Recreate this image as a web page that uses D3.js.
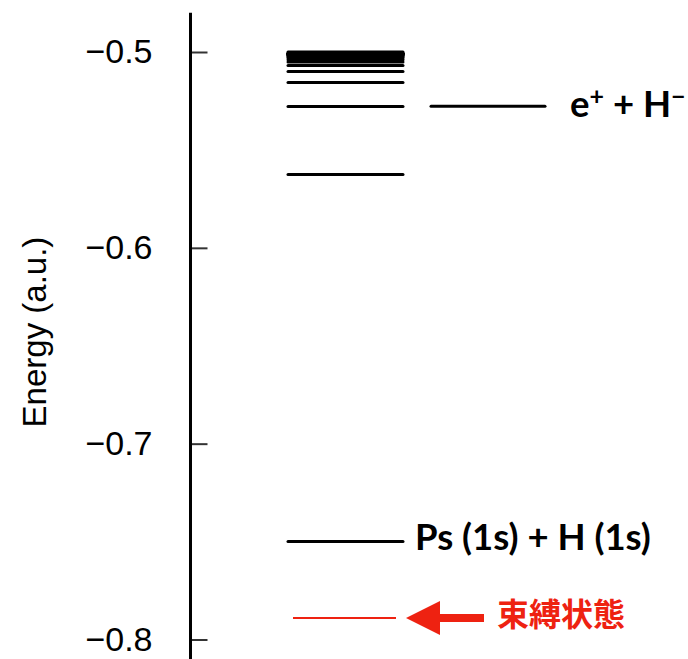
<!DOCTYPE html>
<html>
<head>
<meta charset="utf-8">
<script src="https://cdn.jsdelivr.net/npm/d3@7"></script>
<style>
  html, body { margin: 0; padding: 0; background: #fff; }
  svg { display: block; }
</style>
</head>
<body>
<svg id="chart" width="688" height="659"></svg>
<script>
// Energy levels of the Ps + H system (atomic units)
// Ps(n) + H(1s) thresholds, n = 2, 3, 4, ... converging to -0.5
const psLevels = [
  -0.5625, -0.527778, -0.515625, -0.51, -0.506944, -0.505102, -0.503906,
  -0.503086, -0.5025, -0.502066, -0.501736, -0.501479, -0.501276, -0.501111,
  -0.500977, -0.500865, -0.500772, -0.500693, -0.500625, -0.5
];
const groundChannel = { label: "Ps (1s) + H (1s)", energy: -0.75 };
const hMinusChannel = { energy: -0.52775 };
const boundState = { label: "束縛状態", energy: -0.789 };
const tickValues = [-0.5, -0.6, -0.7, -0.8];
const axisTitle = "Energy (a.u.)";

const svg = d3.select("#chart");
const axisX = 190.5;

const y = d3.scaleLinear().domain([-0.5, -0.8]).range([52, 639.5]);

// Vertical axis with inward ticks and labels on the left
const axisG = svg.append("g").attr("transform", `translate(${axisX},0)`);
axisG.call(
  d3.axisLeft(y)
    .tickValues(tickValues)
    .tickFormat(d3.format(".1f"))
    .tickSizeInner(-17)
    .tickSizeOuter(0)
    .tickPadding(38)
);
axisG.select(".domain").remove();
axisG.selectAll(".tick line").attr("stroke", "#333").attr("stroke-width", 2);
axisG.selectAll(".tick text")
  .attr("font-family", "'Liberation Sans', Arial, sans-serif")
  .attr("font-size", 34)
  .attr("fill", "#000");
axisG.append("line")
  .attr("x1", 0).attr("x2", 0)
  .attr("y1", y(-0.48)).attr("y2", y(-0.811))
  .attr("stroke", "#000").attr("stroke-width", 3);

// Axis title
svg.append("text")
  .attr("transform", `translate(46,${y(-0.643)}) rotate(-90)`)
  .attr("text-anchor", "middle")
  .attr("font-family", "'Liberation Sans', Arial, sans-serif")
  .attr("font-size", 33)
  .attr("fill", "#000")
  .text(axisTitle);

const levelX0 = 288, levelX1 = 403;

// Ps(n) + H(1s) ladder
svg.append("g").selectAll("line").data(psLevels).join("line")
  .attr("x1", levelX0).attr("x2", levelX1)
  .attr("y1", d => y(d)).attr("y2", d => y(d))
  .attr("stroke", "#000").attr("stroke-width", 3)
  .attr("stroke-linecap", "round");

// Ps(1s) + H(1s) threshold
svg.append("line")
  .attr("x1", levelX0).attr("x2", levelX1)
  .attr("y1", y(groundChannel.energy)).attr("y2", y(groundChannel.energy))
  .attr("stroke", "#000").attr("stroke-width", 3)
  .attr("stroke-linecap", "round");

const boldFont = "Lato, 'Open Sans', sans-serif";

svg.append("text")
  .attr("x", 415).attr("y", y(groundChannel.energy) + 8.5)
  .attr("font-family", boldFont).attr("font-weight", "bold")
  .attr("font-size", 36.5).attr("fill", "#000")
  .text(groundChannel.label);

// e+ + H- threshold
svg.append("line")
  .attr("x1", 431).attr("x2", 545)
  .attr("y1", y(hMinusChannel.energy)).attr("y2", y(hMinusChannel.energy))
  .attr("stroke", "#000").attr("stroke-width", 3)
  .attr("stroke-linecap", "round");

const hmLabel = svg.append("text")
  .attr("x", 570).attr("y", y(hMinusChannel.energy) + 11)
  .attr("font-family", boldFont).attr("font-weight", "bold")
  .attr("font-size", 36.5).attr("fill", "#000");
hmLabel.append("tspan").text("e");
hmLabel.append("tspan").attr("font-size", 25).attr("dy", -12).text("+");
hmLabel.append("tspan").attr("dy", 12).text(" + H");
hmLabel.append("tspan").attr("font-size", 25).attr("dy", -12).text("−");

// Bound state with arrow and label
const red = "#ee2211";
const yb = y(boundState.energy);
svg.append("line")
  .attr("x1", 293).attr("x2", 396)
  .attr("y1", yb).attr("y2", yb)
  .attr("stroke", red).attr("stroke-width", 2);

svg.append("path")
  .attr("d", d3.line()([[406, yb], [440, yb - 17], [440, yb - 4], [484, yb - 4],
                        [484, yb + 4], [440, yb + 4], [440, yb + 17]]) + "Z")
  .attr("fill", red);

svg.append("text")
  .attr("x", 497).attr("y", yb - 6)
  .attr("dominant-baseline", "central")
  .attr("font-family", "'Noto Sans CJK JP', sans-serif").attr("font-weight", "bold")
  .attr("font-size", 32).attr("fill", red)
  .text(boundState.label);
</script>
</body>
</html>
